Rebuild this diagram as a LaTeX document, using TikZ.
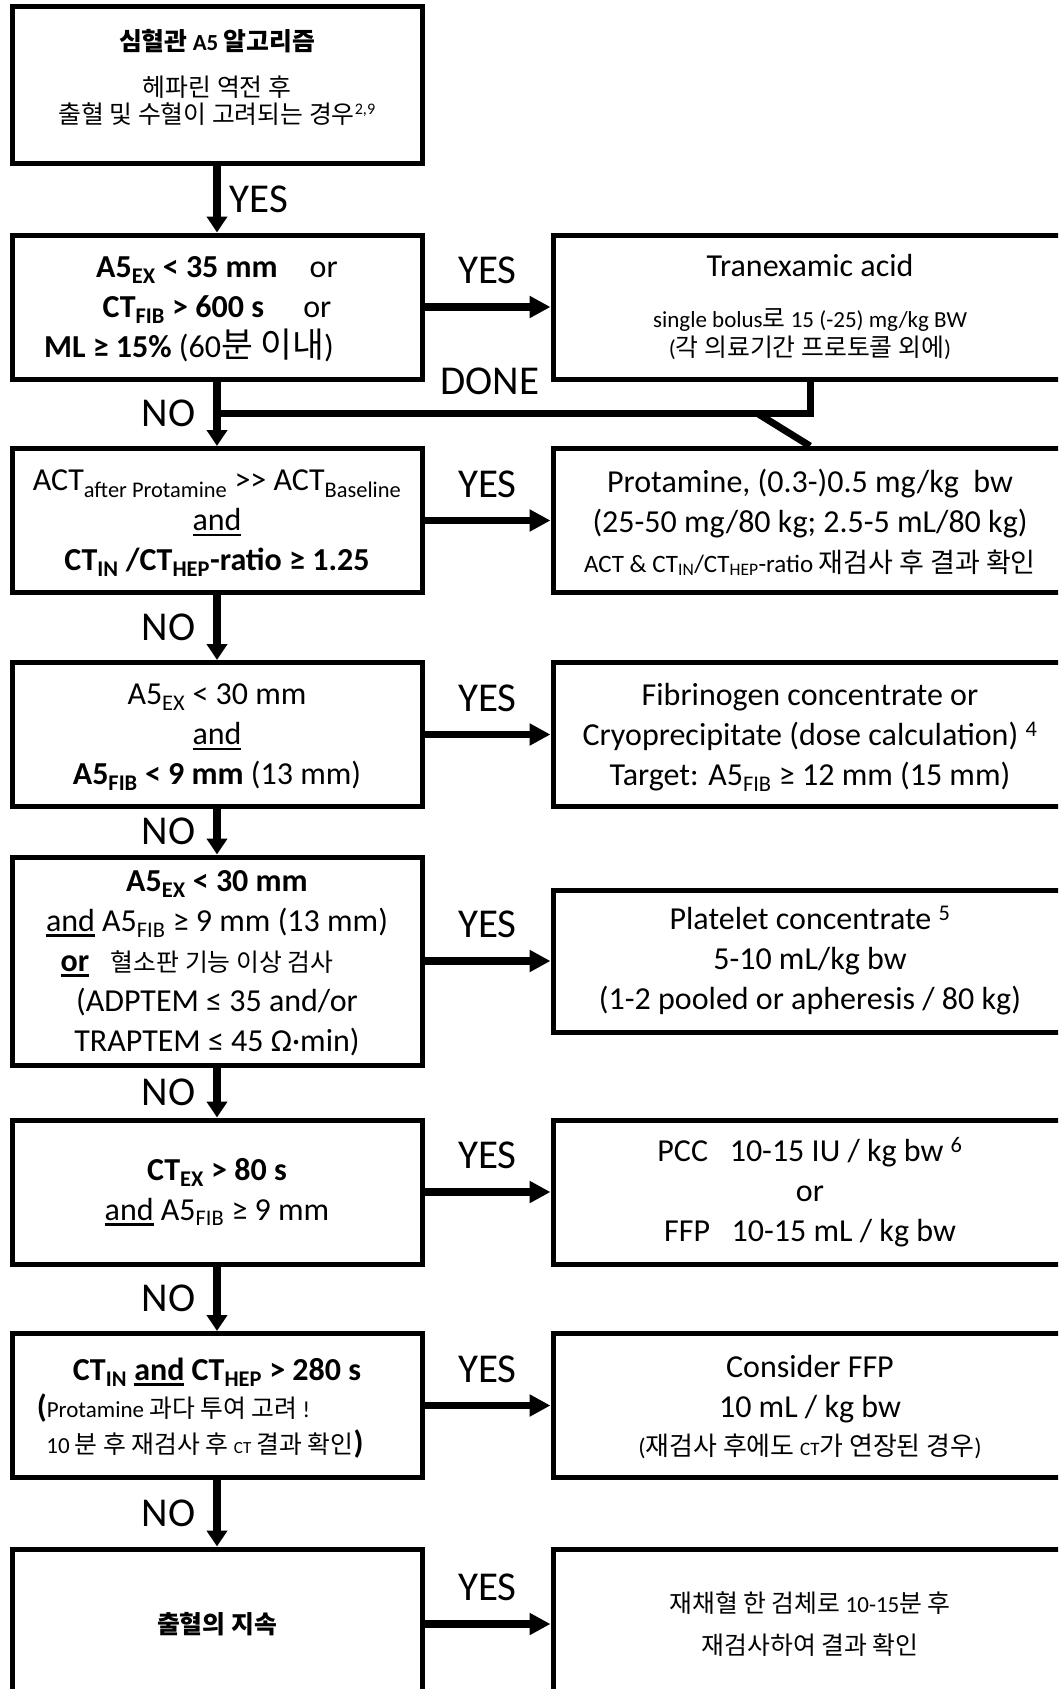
\documentclass[tikz,border=0pt]{standalone}
\usepackage{fontspec}
\setmainfont{Carlito}
\newfontfamily\krfont[Scale=1.08]{Noto Sans CJK KR}
\usetikzlibrary{arrows.meta,calc}
\newcommand{\kr}[1]{{\krfont #1}}
\newcommand{\fsz}[2]{\fontsize{#1}{#2}\selectfont}
\newcommand{\undl}[1]{\setbox0\hbox{#1}\rlap{\rule[-5.5pt]{\wd0}{2.7pt}}\box0\relax}
\tikzset{
  lbox/.style={draw, line width=5pt, minimum width=410pt, minimum height=144pt, inner sep=0pt, align=center, font=\fsz{32}{40}},
  rbox/.style={lbox, minimum width=514pt},
  lowtext/.style={text depth=-1pt},
  noflow/.style={line width=7.5pt, -{Triangle[length=16pt,width=20pt]}},
  yesflow/.style={line width=7.5pt, -{Triangle[length=21pt,width=21pt]}},
  doneline/.style={line width=7pt},
  tag/.style={font=\fsz{41}{49}, inner sep=0pt}
}

\begin{document}
\begin{tikzpicture}[x=1pt, y=-1pt]
\useasboundingbox (0,0) rectangle (1058,1689);
\clip (0,0) rectangle (1058,1689);
% left column: the checks
\node[lbox, minimum height=157.5pt] (start) at (217,85) {};
\node[align=center, inner sep=0pt, font=\fsz{23}{27}] (starttxt) at (217,77)
  {{\bfseries\kr{심혈관} A5 \kr{알고리즘}}\\[19pt]\kr{헤파린 역전 후}\\\kr{출혈 및 수혈이 고려되는 경우}\textsuperscript{2,9}};
\node[lbox, lowtext] (lys) at (217,307)
  {{\bfseries A5\textsubscript{EX} < 35 mm}\quad or\\
   {\bfseries CT\textsubscript{FIB} > 600 s}\quad\ or\\
   {\bfseries ML ≥ 15\%} (60\kr{분 이내})\hspace*{56pt}};
\node[lbox, lowtext] (hep) at (217,520.5)
  {ACT\textsubscript{after Protamine} >{}> ACT\textsubscript{Baseline}\\
   \undl{and}\\
   {\bfseries CT\textsubscript{IN} /CT\textsubscript{HEP}-ratio ≥ 1.25}};
\node[lbox, lowtext] (fib) at (217,734.5)
  {A5\textsubscript{EX} < 30 mm\\
   \undl{and}\\
   {\bfseries A5\textsubscript{FIB} < 9 mm} (13 mm)};
\node[lbox, lowtext, minimum height=208pt] (plt) at (217,961)
  {{\bfseries A5\textsubscript{EX} < 30 mm}\\
   \undl{and} A5\textsubscript{FIB} ≥ 9 mm (13 mm)\\
   {\bfseries\undl{or}}\ \ \ {\fsz{23}{28}\kr{혈소판 기능 이상 검사}}\hspace*{40pt}\mbox{}\\
   (ADPTEM ≤ 35 and/or\\
   TRAPTEM ≤ 45 Ω·min)};
\node[lbox] (ctex) at (217,1192)
  {{\bfseries CT\textsubscript{EX} > 80 s}\\
   \undl{and} A5\textsubscript{FIB} ≥ 9 mm};
\node[lbox, lowtext] (ctin) at (217,1405.5)
  {{\bfseries CT\textsubscript{IN} \undl{and} CT\textsubscript{HEP} > 280 s}\\[-3pt]
   {\bfseries(}{\fsz{23}{26}Protamine \kr{과다 투여 고려} !}\hspace*{87pt}\mbox{}\\[-4pt]
   {\fsz{23}{26}10 \kr{분 후 재검사 후} {\fsz{17}{20}CT} \kr{결과 확인}}{\bfseries)}\hspace*{24pt}};
\node[lbox, minimum height=150pt, font=\fsz{23}{28}] (bleed) at (217,1624)
  {{\bfseries\kr{출혈의 지속}}};
% right column: what to give
\node[rbox] (txa) at (810,307)
  {Tranexamic acid\\[11pt]
   {\fsz{23}{29}single bolus\kr{로} 15 (-25) mg/kg BW}\\[-11pt]
   {\fsz{23}{29}(\kr{각 의료기간 프로토콜 외에})}};
\node[rbox, lowtext] (prot) at (810,520.5)
  {Protamine, (0.3-)0.5 mg/kg\ \ bw\\
   (25-50 mg/80 kg; 2.5-5 mL/80 kg)\\
   {\fsz{25}{30}ACT \& CT\textsubscript{IN}/CT\textsubscript{HEP}-ratio \kr{재검사 후 결과 확인}}};
\node[rbox, lowtext] (fibconc) at (810,734.5)
  {Fibrinogen concentrate or\\
   Cryoprecipitate (dose calculation) \textsuperscript{4}\\
   Target: A5\textsubscript{FIB} ≥ 12 mm (15 mm)};
\node[rbox, minimum height=142pt] (pltconc) at (810,961)
  {Platelet concentrate \textsuperscript{5}\\
   5-10 mL/kg bw\\
   (1-2 pooled or apheresis / 80 kg)};
\node[rbox] (pcc) at (810,1192)
  {PCC\ \ \ 10-15 IU / kg bw \textsuperscript{6}\\
   or\\
   FFP\ \ \ 10-15 mL / kg bw};
\node[rbox, lowtext] (ffp) at (810,1405.5)
  {Consider FFP\\
   10 mL / kg bw\\[-2pt]
   {\fsz{24}{28}(\kr{재검사 후에도} {\fsz{19}{20}CT}\kr{가 연장된 경우})}};
\node[rbox, minimum height=150pt, font=\fsz{23}{42}] (retest) at (810,1624)
  {\kr{재채혈 한 검체로} 10-15\kr{분 후}\\
   \kr{재검사하여 결과 확인}};
% down the trunk
\draw[noflow] (start) -- (lys) node[tag, midway, right=9pt] {YES};
\foreach \a/\b in {lys/hep, hep/fib, fib/plt, plt/ctex, ctex/ctin, ctin/bleed}
  \draw[noflow] (\a) -- (\b) node[tag, midway, left=18pt] {NO};
% yes branches
\foreach \a/\b in {lys/txa, hep/prot, fib/fibconc, plt/pltconc, ctex/pcc, ctin/ffp, bleed/retest}
  \draw[yesflow] (\a) -- (\b) node[tag, midway, above=19pt] {YES};
% done, back to the trunk
\coordinate (join) at ($(lys.south)!0.5!(hep.north)$);
\draw[doneline] (txa.south) |- (join) node[tag, pos=0.77, above=15pt] {DONE};
\draw[doneline] ($(join -| txa.south)+(-52,0)$) -- (prot.north);
\end{tikzpicture}
\end{document}
